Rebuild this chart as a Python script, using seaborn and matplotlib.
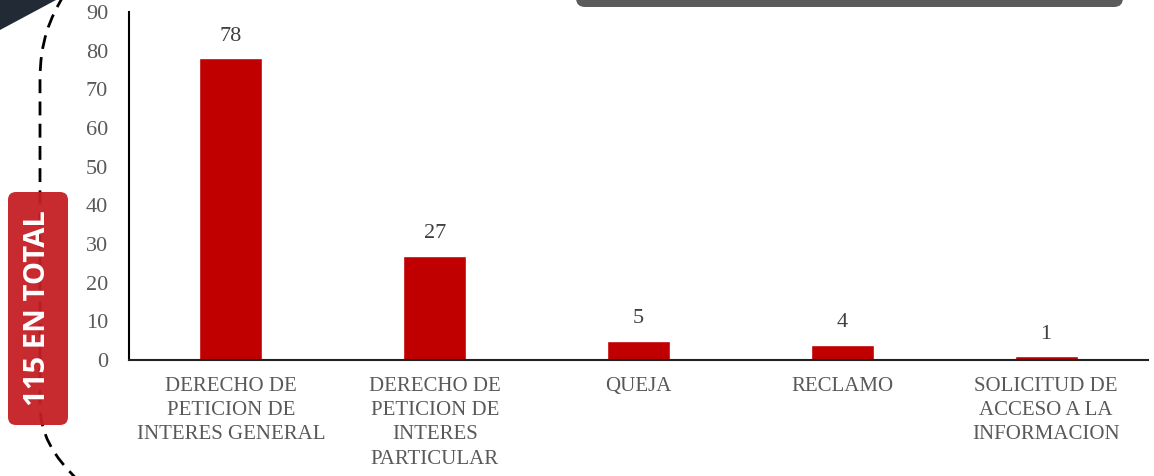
import matplotlib
matplotlib.use("Agg")
import matplotlib.pyplot as plt
from matplotlib.patches import FancyBboxPatch, Polygon, PathPatch
from matplotlib.path import Path
from matplotlib.transforms import IdentityTransform
import pandas as pd
import seaborn as sns

categories = [
    "DERECHO DE\nPETICION DE\nINTERES GENERAL",
    "DERECHO DE\nPETICION DE\nINTERES\nPARTICULAR",
    "QUEJA",
    "RECLAMO",
    "SOLICITUD DE\nACCESO A LA\nINFORMACION",
]
counts = [78, 27, 5, 4, 1]
y_ticks = [0, 10, 20, 30, 40, 50, 60, 70, 80, 90]
total_label = "115 EN TOTAL"

W, H = 1154, 476
df = pd.DataFrame({"tipo": categories, "cantidad": counts})

sns.set_style("white")
plt.rcParams["font.family"] = ["Liberation Serif", "DejaVu Serif"]

fig = plt.figure(figsize=(W / 100, H / 100), dpi=100)
ax = fig.add_axes([129 / W, 1 - 360 / H, (1148 - 129) / W, (360 - 12) / H])

sns.barplot(data=df, x="tipo", y="cantidad", color="#C00000", width=0.31,
            saturation=1, ax=ax)
ax.bar_label(ax.containers[0], padding=9, fontsize=16, color="#404040")

ax.set_xlim(-0.5, 4.5)
ax.set_ylim(0, 90)
ax.set_yticks(y_ticks)
ax.set_xlabel("")
ax.set_ylabel("")
ax.tick_params(axis="y", length=0, pad=15, labelsize=16, labelcolor="#595959")
ax.tick_params(axis="x", length=0, pad=12, labelsize=15, labelcolor="#595959")
for lab in ax.get_xticklabels():
    lab.set_linespacing(1.38)
sns.despine(ax=ax)
ax.spines["left"].set_color("black")
ax.spines["left"].set_linewidth(1.5)
ax.spines["bottom"].set_color("#222222")
ax.spines["bottom"].set_linewidth(1.5)

# slide decorations (pixel coords, origin bottom-left)
px = IdentityTransform()


def p(x, y):
    return (x, H - y)


# dark corner triangle
fig.patches.append(Polygon([p(0, 0), p(56, 0), p(0, 30)], closed=True,
                           facecolor="#222a35", edgecolor="none",
                           transform=px, figure=fig))

# grey banner at top
fig.patches.append(FancyBboxPatch((576, H - 7), 547, 40,
                                  boxstyle="round,pad=0,rounding_size=9",
                                  facecolor="#5b5b5b", edgecolor="none",
                                  transform=px, figure=fig))

# dashed curve
verts = [p(64, -5), p(50, 18), p(40, 42), p(40, 80), p(40, 405),
         p(40, 432), p(52, 456), p(80, 482)]
codes = [Path.MOVETO, Path.CURVE4, Path.CURVE4, Path.CURVE4, Path.LINETO,
         Path.CURVE4, Path.CURVE4, Path.CURVE4]
fig.patches.append(PathPatch(Path(verts, codes), facecolor="none",
                             edgecolor="black", linewidth=2,
                             linestyle=(0, (5, 3)),
                             transform=px, figure=fig))

# red total box
fig.patches.append(FancyBboxPatch((8, H - 425), 60, 233,
                                  boxstyle="round,pad=0,rounding_size=8",
                                  facecolor="#c41e24", edgecolor="none",
                                  alpha=0.95, transform=px, figure=fig))
fig.text(38 / W, 1 - 308 / H, total_label, rotation=90, ha="center",
         va="center", color="white", fontsize=21, fontweight="bold",
         family=["Open Sans", "DejaVu Sans"])

fig.savefig("out.png", dpi=100)
